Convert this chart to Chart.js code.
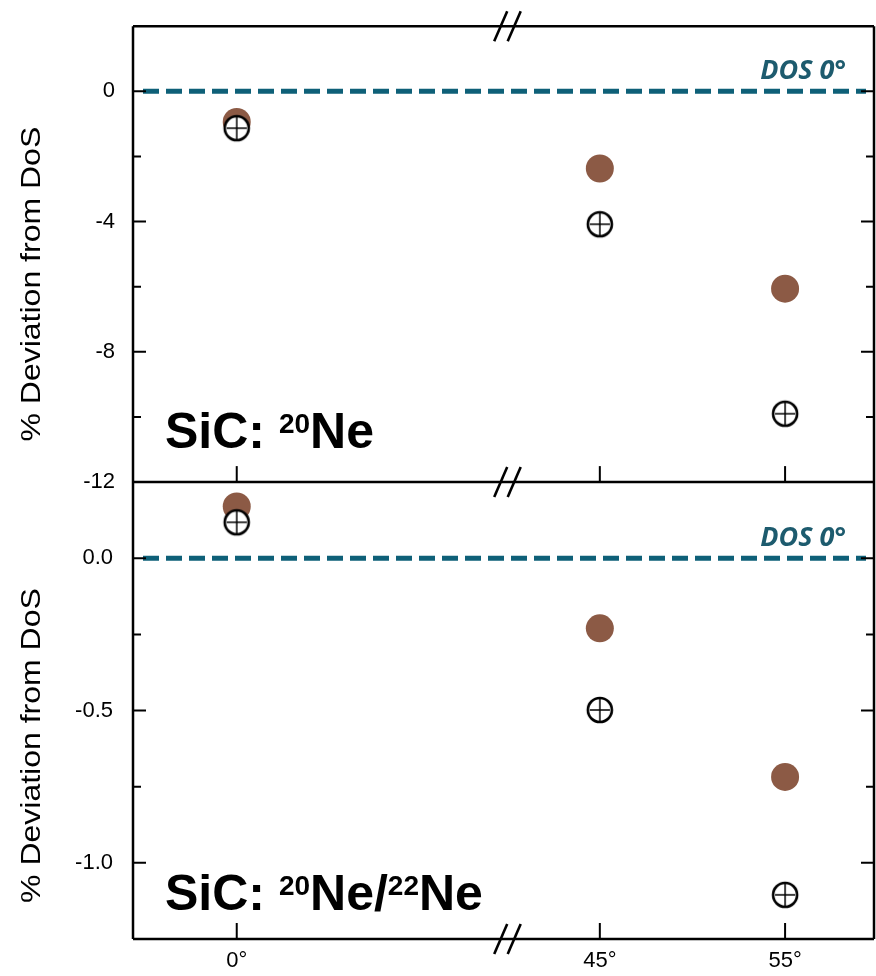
<!DOCTYPE html>
<html>
<head>
<meta charset="utf-8">
<script src="https://cdn.jsdelivr.net/npm/chart.js@4.4.1/dist/chart.umd.min.js"></script>
<style>
  html, body { margin: 0; padding: 0; background: #ffffff; overflow: hidden; }
  #wrap { width: 876px; height: 976px; position: relative; overflow: hidden; }
  #c { position: absolute; left: 0; top: -7px; }
</style>
</head>
<body>
<div id="wrap"><canvas id="c" width="888" height="983"></canvas></div>
<script>
// ---- data ----
const categories = ['0°', '45°', '55°'];
const angles = [0, 45, 55];
// top panel: SiC 20Ne (% deviation from DoS)
const ne20Filled = [-0.94, -2.37, -6.06];
const ne20Open = [-1.13, -4.08, -9.90];
// bottom panel: SiC 20Ne/22Ne (% deviation from DoS)
const ratioFilled = [0.17, -0.23, -0.718];
const ratioOpen = [0.118, -0.498, -1.105];
// axis settings
const topRange = [-12, 2];
const topStep = 2;
const topLabelEvery = 4;
const botRange = [-1.25, 0.25];
const botStep = 0.25;
const botLabelEvery = 0.5;
const refLabel = 'DOS 0°';
const yTitle = '% Deviation from DoS';

// axis break: 0° is drawn shifted next to 45°
const breakShift = 25.4;
const breakAt = 40.0;
const xRange = [19.8, 59.8];
function axisPos(a) { return a < 45 ? a + breakShift : a; }

// open-circle-with-cross marker
function makeOpenMarker() {
  const c = document.createElement('canvas');
  c.width = 32; c.height = 32;
  const g = c.getContext('2d');
  g.beginPath(); g.arc(16, 16, 12, 0, Math.PI * 2);
  g.fillStyle = '#ffffff'; g.fill();
  g.lineWidth = 2.6; g.strokeStyle = '#000000'; g.stroke();
  g.beginPath();
  g.lineWidth = 1.5;
  g.moveTo(16, 5); g.lineTo(16, 27);
  g.moveTo(6, 16); g.lineTo(26, 16);
  g.stroke();
  return c;
}
const openMarker = makeOpenMarker();

const brown = '#8c5a45';
const teal = '#0e6078';

function pts(vals) { return angles.map((a, i) => ({ x: axisPos(a), y: vals[i] })); }

function isMult(v, m) { const r = v / m; return Math.abs(r - Math.round(r)) < 1e-6; }

function drawRich(ctx, parts, x, y) {
  let cx = x;
  parts.forEach(p => {
    ctx.font = 'bold ' + p.size + 'px "Liberation Sans", Arial, sans-serif';
    ctx.fillText(p.t, cx, y + (p.dy || 0));
    cx += ctx.measureText(p.t).width;
  });
}

const decorPlugin = {
  id: 'decor',
  beforeDatasetsDraw(chart) {
    const ctx = chart.ctx;
    const ca = chart.chartArea;
    const yT = chart.scales.yTop, yB = chart.scales.yBot;
    ctx.save();
    ctx.strokeStyle = teal;
    ctx.lineWidth = 5;
    ctx.setLineDash([16, 7]);
    [yT, yB].forEach(s => {
      const py = s.getPixelForValue(0);
      ctx.beginPath();
      ctx.moveTo(ca.left + 10, py);
      ctx.lineTo(ca.right - 8, py);
      ctx.stroke();
    });
    ctx.restore();
  },
  afterDatasetsDraw(chart) {
    const ctx = chart.ctx;
    const ca = chart.chartArea;
    const x = chart.scales.x;
    const yT = chart.scales.yTop, yB = chart.scales.yBot;
    const L = ca.left, R = ca.right;
    ctx.save();
    ctx.strokeStyle = '#000';
    ctx.lineWidth = 2.5;
    ctx.setLineDash([]);
    // frame
    ctx.beginPath();
    ctx.moveTo(L, yT.top); ctx.lineTo(R, yT.top);
    ctx.moveTo(L, yB.top); ctx.lineTo(R, yB.top);
    ctx.moveTo(L, yB.bottom); ctx.lineTo(R, yB.bottom);
    ctx.moveTo(L, yT.top); ctx.lineTo(L, yB.bottom);
    ctx.moveTo(R, yT.top); ctx.lineTo(R, yB.bottom);
    ctx.stroke();
    // y ticks
    ctx.lineWidth = 2;
    function yTicks(s, step, every) {
      for (let v = s.min + step; v < s.max - 1e-9; v += step) {
        const py = s.getPixelForValue(v);
        const len = isMult(v, every) ? 13 : 8;
        ctx.beginPath();
        ctx.moveTo(L, py); ctx.lineTo(L + len, py);
        ctx.moveTo(R, py); ctx.lineTo(R - len, py);
        ctx.stroke();
      }
    }
    yTicks(yT, topStep, topLabelEvery);
    yTicks(yB, botStep, botLabelEvery);
    // x ticks (upward) at bottom of both panels
    angles.forEach(a => {
      const px = x.getPixelForValue(axisPos(a));
      [yT.bottom, yB.bottom].forEach(by => {
        ctx.beginPath();
        ctx.moveTo(px, by); ctx.lineTo(px, by - 16);
        ctx.stroke();
      });
    });
    // break marks
    const bx = x.getPixelForValue(breakAt);
    ctx.lineWidth = 2.6;
    [yT.top, yB.top, yB.bottom].forEach(by => {
      [-6.5, 7].forEach(off => {
        ctx.beginPath();
        ctx.moveTo(bx + off - 6.5, by + 15);
        ctx.lineTo(bx + off + 6.5, by - 15);
        ctx.stroke();
      });
    });
    // reference labels
    ctx.fillStyle = '#1d5b6e';
    ctx.font = 'italic bold 27px "Open Sans", "Liberation Sans", sans-serif';
    ctx.textAlign = 'right';
    ctx.textBaseline = 'alphabetic';
    [yT, yB].forEach(s => {
      ctx.fillText(refLabel, R - 28, s.getPixelForValue(0) - 12);
    });
    // panel labels
    ctx.fillStyle = '#000';
    ctx.textAlign = 'left';
    drawRich(ctx, [
      { t: 'SiC: ', size: 50 }, { t: '20', size: 28, dy: -15 }, { t: 'Ne', size: 50 }
    ], 165, yT.bottom - 34);
    drawRich(ctx, [
      { t: 'SiC: ', size: 50 }, { t: '20', size: 28, dy: -15 }, { t: 'Ne/', size: 50 },
      { t: '22', size: 28, dy: -15 }, { t: 'Ne', size: 50 }
    ], 165, yB.bottom - 29);
    // y titles
    ctx.font = '32px "Liberation Sans", Arial, sans-serif';
    ctx.textAlign = 'center';
    ctx.textBaseline = 'middle';
    [[yT, 30], [yB, 35]].forEach(([s, off]) => {
      ctx.save();
      ctx.translate(32, (s.top + s.bottom) / 2 + off);
      ctx.rotate(-Math.PI / 2);
      ctx.scale(1, 0.85);
      ctx.fillText(yTitle, 0, 0);
      ctx.restore();
    });
    ctx.restore();
  }
};

const tickFont = { family: '"Liberation Sans", Arial, sans-serif', size: 22 };

new Chart(document.getElementById('c'), {
  type: 'scatter',
  data: {
    datasets: [
      { label: 'open top', data: pts(ne20Open), yAxisID: 'yTop', pointStyle: openMarker, order: 0 },
      { label: 'filled top', data: pts(ne20Filled), yAxisID: 'yTop', pointStyle: 'circle',
        pointRadius: 14, backgroundColor: brown, borderWidth: 0, order: 1 },
      { label: 'open bottom', data: pts(ratioOpen), yAxisID: 'yBot', pointStyle: openMarker, order: 0 },
      { label: 'filled bottom', data: pts(ratioFilled), yAxisID: 'yBot', pointStyle: 'circle',
        pointRadius: 14, backgroundColor: brown, borderWidth: 0, order: 1 }
    ]
  },
  options: {
    responsive: false,
    animation: false,
    events: [],
    layout: { padding: { top: 19, right: 0, left: 0, bottom: 0 } },
    plugins: { legend: { display: false }, tooltip: { enabled: false } },
    scales: {
      x: {
        type: 'linear', min: xRange[0], max: xRange[1],
        grid: { display: false, drawTicks: false }, border: { display: false },
        afterBuildTicks: s => { s.ticks = angles.map(a => ({ value: axisPos(a) })); },
        ticks: {
          autoSkip: false, maxRotation: 0, padding: 9, color: '#000', font: tickFont,
          callback: v => { const i = angles.findIndex(a => Math.abs(axisPos(a) - v) < 1e-6); return i >= 0 ? categories[i] : ''; }
        },
        afterFit: s => { s.height = 37; }
      },
      yBot: {
        type: 'linear', position: 'left', stack: 'panels', stackWeight: 457,
        min: botRange[0], max: botRange[1],
        grid: { display: false, drawTicks: false }, border: { display: false },
        ticks: {
          stepSize: botStep, autoSkip: false, padding: 20, color: '#000', font: tickFont,
          callback: v => isMult(v, botLabelEvery) && v > botRange[0] && v < botRange[1] ? (Math.abs(v) < 1e-9 ? '0.0' : v.toFixed(1)) : ''
        },
        afterFit: s => { s.width = 133; }
      },
      yTop: {
        type: 'linear', position: 'left', stack: 'panels', stackWeight: 456,
        min: topRange[0], max: topRange[1],
        grid: { display: false, drawTicks: false }, border: { display: false },
        ticks: {
          stepSize: topStep, autoSkip: false, padding: 18, color: '#000', font: tickFont,
          callback: v => isMult(v, topLabelEvery) && v < topRange[1] ? String(Math.round(v)) : ''
        },
        afterFit: s => { s.width = 133; }
      }
    }
  },
  plugins: [decorPlugin]
});
</script>
</body>
</html>
